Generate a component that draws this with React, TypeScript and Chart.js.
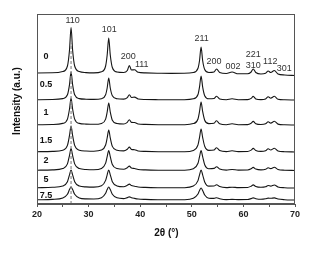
import React, { useEffect, useRef } from "react";
import { Chart, registerables } from "chart.js";

Chart.register(...registerables);

// 2θ sampling positions (degrees)
const twoTheta = [
  20, 23, 25, 25.9, 26.3, 26.6, 26.9, 27.3, 28.2, 29.5,
  31, 32.5, 33.3, 33.6, 33.9, 34.2, 34.6, 35.5, 36.8, 37.5,
  37.9, 38.3, 38.9, 39.6, 41, 43.5, 46, 48.5, 50.3, 51.2,
  51.5, 51.8, 52.1, 52.5, 53.3, 54.3, 54.8, 55.4, 56.7, 57.8,
  59, 60.8, 61.5, 61.9, 62.4, 63.4, 64.3, 64.8, 65.3, 66.0,
  66.7, 68, 70,
];

// intensities (a.u.) above each trace's own baseline
const i0 = [
  0.5, 0.7, 2, 7.5, 23.5, 46, 23.5, 7.5, 2, 0.9,
  0.6, 1.8, 7.5, 18.5, 35.5, 18.5, 6, 1.5, 1, 3,
  8, 3.5, 3.8, 1.2, 0.6, 0.3, 0.1, 0.2, 1, 5.2,
  13, 26.5, 13, 4, 1, 1.5, 4.5, 1, 0, 1.5,
  -0.3, -0.3, 1.5, 4.5, 1, -0.5, 0.2, 2.5, 1, 3,
  -0.5, -1.5, -2,
];
const i05 = [
  0.3, 0.5, 1.4, 5.2, 15.4, 28, 15.4, 5.2, 1.4, 0.8,
  0.6, 1.3, 5.2, 12, 22, 12, 4.2, 1.3, 0.9, 2.4,
  5.3, 2.5, 2.9, 1, 0.5, 0.3, 0.2, 0.3, 1.2, 5.5,
  13.2, 24, 13.2, 4.3, 1.2, 1.5, 3.7, 1, 0.3, 1.2,
  0.3, 0.4, 1.6, 3.6, 1.1, 0.4, 1.1, 3.2, 1.8, 3.7,
  0.8, 0.2, 0,
];
const i1 = [
  0.3, 0.5, 1.6, 5.9, 16, 27, 16, 5.9, 1.6, 0.9,
  0.7, 1.6, 5.9, 13, 22, 13, 4.8, 1.5, 1, 2.7,
  5.3, 2.6, 2.5, 1, 0.6, 0.3, 0.2, 0.3, 1.4, 6,
  13.6, 23, 13.6, 4.8, 1.4, 1.8, 4.2, 1.2, 0.3, 1.2,
  0.3, 0.4, 1.8, 3.6, 1.3, 0.5, 1.2, 3.2, 1.9, 3.7,
  0.9, 0.2, 0,
];
const i15 = [
  0.3, 0.6, 1.8, 6.6, 16.6, 26, 16.6, 6.6, 1.8, 1,
  0.8, 1.9, 7, 14.1, 22, 14.1, 5.6, 1.8, 1.1, 2.8,
  4.9, 2.6, 2.3, 1, 0.6, 0.3, 0.2, 0.3, 1.6, 7.1,
  14.7, 23, 14.7, 5.7, 1.6, 2, 4.3, 1.4, 0.4, 1.2,
  0.4, 0.5, 1.9, 3.6, 1.5, 0.6, 1.3, 3.2, 2, 3.7,
  1, 0.3, 0,
];
const i2 = [
  0.3, 0.6, 1.9, 6.6, 15.2, 22, 15.2, 6.6, 1.9, 1,
  0.8, 2.1, 7.4, 13.8, 20, 13.8, 6, 2, 1.2, 2.8,
  4.4, 2.5, 2, 1, 0.6, 0.3, 0.2, 0.3, 1.8, 7.2,
  13.8, 20, 13.8, 5.8, 1.8, 2.1, 3.8, 1.4, 0.4, 1,
  0.4, 0.5, 1.7, 3.1, 1.4, 0.6, 1.2, 2.7, 1.9, 3.2,
  1, 0.3, 0,
];
const i5 = [
  0.3, 0.7, 2, 6.3, 13.2, 18, 13.2, 6.3, 2, 1.1,
  0.9, 2.2, 7.6, 13.2, 18, 13.2, 6.3, 2.1, 1.3, 2.7,
  3.9, 2.4, 1.8, 1, 0.6, 0.3, 0.2, 0.3, 1.9, 7.4,
  13.2, 18, 13.2, 6.1, 1.9, 2, 3.3, 1.4, 0.4, 0.8,
  0.4, 0.5, 1.8, 3.1, 1.5, 0.7, 1.2, 2.5, 1.9, 3,
  1.1, 0.3, 0,
];
const i75 = [
  0.2, 0.6, 2, 5.7, 10.4, 13, 10.4, 5.7, 2, 1.1,
  1, 2.3, 6.8, 10.4, 13, 10.4, 5.8, 2.2, 1.4, 2.4,
  3.1, 2.3, 1.6, 1, 0.6, 0.3, 0.2, 0.3, 1.8, 6,
  9.6, 12, 9.6, 5, 1.8, 1.6, 2.3, 1.3, 0.4, 0.6,
  0.4, 0.5, 1.4, 2.1, 1.3, 0.7, 1.2, 1.9, 1.7, 2.1,
  1, 0.3, 0,
];

const series = [i0, i05, i1, i15, i2, i5, i75];
const traceNames = ["0", "0.5", "1", "1.5", "2", "5", "7.5"];
// vertical stacking offsets of each trace (a.u.)
const stackOffsets = [130.5, 104, 79, 52, 33.5, 16, 4];

// reflection labels and their 2θ
const hklNames = ["110", "101", "200", "111", "211", "200", "002", "221", "310", "112", "301"];
const hklTheta = [26.9, 34.0, 37.7, 40.3, 51.9, 54.3, 58.0, 61.9, 61.9, 65.2, 67.9];

const xTicks = [20, 30, 40, 50, 60, 70];
const refLineTheta = 26.6;

// styling / placement (pixels)
const hklY = [21, 29.5, 57, 65, 38.5, 62, 67, 55, 66, 62, 69];
const labelLift = [16.5, 15, 12, 11, 9.5, 8, 4.5];
const FONT = "'Liberation Sans', Arial, sans-serif";

const textPlugin = {
  id: "texts",
  afterDraw(chart: any) {
    const { ctx, chartArea, scales } = chart;
    const xs = scales.x;
    const ys = scales.y;
    ctx.save();
    // frame
    ctx.strokeStyle = "#555";
    ctx.lineWidth = 1;
    ctx.strokeRect(
      Math.round(chartArea.left) + 0.5,
      Math.round(chartArea.top) + 0.5,
      Math.round(chartArea.right - chartArea.left) - 1,
      Math.round(chartArea.bottom - chartArea.top) - 1
    );
    // hkl labels
    ctx.fillStyle = "#333";
    ctx.font = `9px ${FONT}`;
    ctx.textAlign = "center";
    ctx.textBaseline = "middle";
    hklNames.forEach((n, i) => {
      ctx.fillText(n, xs.getPixelForValue(hklTheta[i]), hklY[i]);
    });
    // trace labels
    ctx.fillStyle = "#111";
    ctx.font = `bold 9px ${FONT}`;
    traceNames.forEach((n, i) => {
      const y = ys.getPixelForValue(stackOffsets[i]) - labelLift[i];
      ctx.fillText(n, chartArea.left + 9, y);
    });
    // axis titles
    ctx.font = `bold 10px ${FONT}`;
    ctx.fillText("2θ (°)", (chartArea.left + chartArea.right) / 2 + 0.5, 233);
    ctx.translate(17, (chartArea.top + chartArea.bottom) / 2 - 8);
    ctx.rotate(-Math.PI / 2);
    ctx.fillText("Intensity (a.u.)", 0, 0);
    ctx.restore();
  },
};

export default function App() {
  const ref = useRef<HTMLCanvasElement | null>(null);
  useEffect(() => {
    if (!ref.current) return;
    const datasets: any[] = [
      {
        data: [
          { x: refLineTheta, y: 0 },
          { x: refLineTheta, y: 161 },
        ],
        borderColor: "#8a8a8a",
        borderWidth: 1.2,
        borderDash: [3, 2],
        pointRadius: 0,
      },
      ...series.map((s, k) => ({
        data: twoTheta.map((t, i) => ({ x: t, y: stackOffsets[k] + s[i] })),
        borderColor: "#151515",
        borderWidth: 1.1,
        pointRadius: 0,
        cubicInterpolationMode: "monotone",
      })),
    ];
    const chart = new Chart(ref.current, {
      type: "line",
      data: { datasets },
      options: {
        animation: false,
        responsive: true,
        maintainAspectRatio: false,
        layout: { padding: { left: 0, right: 18, top: 14, bottom: 0 } },
        plugins: { legend: { display: false }, tooltip: { enabled: false } },
        scales: {
          x: {
            type: "linear",
            min: 20,
            max: 70,
            afterFit: (s: any) => {
              s.height = 52;
            },
            afterBuildTicks: (s: any) => {
              const t: any[] = [];
              for (let v = 20; v <= 70; v += 5) t.push({ value: v });
              s.ticks = t;
            },
            ticks: {
              autoSkip: false,
              maxRotation: 0,
              padding: 2,
              color: "#222",
              font: { family: FONT, size: 9, weight: "bold" },
              callback: (v: any) => (xTicks.includes(Number(v)) ? String(v) : ""),
            },
            grid: {
              display: true,
              drawOnChartArea: false,
              drawTicks: true,
              tickLength: 3,
              color: "#555",
            },
            border: { display: true, color: "#555" },
          },
          y: {
            min: 0,
            max: 190,
            afterFit: (s: any) => {
              s.width = 37;
            },
            ticks: { display: false },
            grid: { display: false },
            border: { display: true, color: "#555" },
          },
        },
      },
      plugins: [textPlugin],
    });
    return () => chart.destroy();
  }, []);
  return (
    <div style={{ position: "absolute", left: 0, top: 0, width: 313, height: 256, background: "#fff" }}>
      <canvas ref={ref} />
    </div>
  );
}
